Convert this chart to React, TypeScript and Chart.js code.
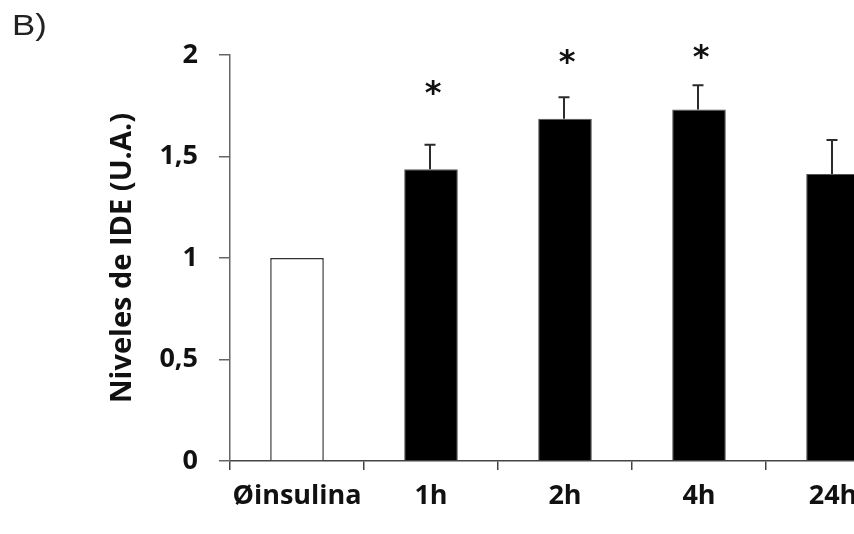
import { useEffect, useRef } from "react";
import { Chart, registerables } from "chart.js";

Chart.register(...registerables);

// IDE levels relative to the untreated control (arbitrary units)
const categories = ["Øinsulina", "1h", "2h", "4h", "24h"];
const ideLevels = [1.0, 1.437, 1.686, 1.731, 1.414];
const ideErrors = [0, 0.121, 0.106, 0.12, 0.167];
// significance marks and the axis value they sit at
const significant = [false, true, true, true, false];
const asteriskLevels = [0, 1.84, 1.995, 2.015, 0];
const yTicks = [0, 0.5, 1, 1.5, 2];
const panelLabel = "B)";
const yTitle = "Niveles de IDE (U.A.)";

const FONT = "'Open Sans', Lato, sans-serif";

const errorBarsPlugin = {
  id: "errorBars",
  afterDatasetsDraw(chart: any) {
    const meta = chart.getDatasetMeta(0);
    const y = chart.scales.y;
    const ctx = chart.ctx;
    ctx.save();
    ctx.strokeStyle = "#2b2b2b";
    ctx.lineWidth = 2;
    meta.data.forEach((bar: any, i: number) => {
      const err = ideErrors[i];
      if (!err) return;
      const x = Math.round(bar.x) - 1;
      const top = y.getPixelForValue(ideLevels[i] + err);
      ctx.beginPath();
      ctx.moveTo(x, bar.y);
      ctx.lineTo(x, top);
      ctx.moveTo(x - 5.5, top);
      ctx.lineTo(x + 5.5, top);
      ctx.stroke();
    });
    // significance asterisks
    ctx.fillStyle = "#111";
    ctx.font = "bold 32px 'DejaVu Sans', sans-serif";
    ctx.textAlign = "center";
    ctx.textBaseline = "alphabetic";
    meta.data.forEach((bar: any, i: number) => {
      if (!significant[i]) return;
      const m = ctx.measureText("*");
      const cy = y.getPixelForValue(asteriskLevels[i]);
      const off = (m.actualBoundingBoxAscent - m.actualBoundingBoxDescent) / 2;
      ctx.fillText("*", bar.x + 2, cy + off);
    });
    ctx.restore();
  },
  afterDraw(chart: any) {
    const ctx = chart.ctx;
    ctx.save();
    ctx.fillStyle = "#222";
    ctx.font = "29px 'Liberation Sans', Arial, sans-serif";
    ctx.textAlign = "left";
    ctx.textBaseline = "alphabetic";
    ctx.translate(12, 35);
    ctx.scale(1.2, 1);
    ctx.fillText(panelLabel, 0, 0);
    ctx.restore();
  },
};

export default function App() {
  const canvasRef = useRef<HTMLCanvasElement | null>(null);

  useEffect(() => {
    const canvas = canvasRef.current;
    if (!canvas) return;
    const chart = new Chart(canvas, {
      type: "bar",
      data: {
        labels: categories,
        datasets: [
          {
            data: ideLevels,
            backgroundColor: ideLevels.map((_, i) => (i === 0 ? "#ffffff" : "#000000")),
            borderColor: ideLevels.map((_, i) => (i === 0 ? "#333333" : "#555555")),
            borderWidth: ideLevels.map((_, i) => (i === 0 ? 1.5 : 1)),
            barPercentage: 0.4,
            categoryPercentage: 1,
          },
        ],
      },
      options: {
        responsive: false,
        animation: false,
        devicePixelRatio: 1,
        layout: { padding: { left: 0, right: 60, top: 55, bottom: 0 } },
        plugins: {
          legend: { display: false },
          tooltip: { enabled: false },
        },
        scales: {
          x: {
            type: "category",
            offset: true,
            border: { display: true, color: "#444", width: 1.5 },
            grid: {
              offset: true,
              drawOnChartArea: false,
              drawTicks: true,
              tickLength: 9,
              color: "#444",
              lineWidth: 1.5,
            },
            ticks: {
              color: "#111",
              padding: 10,
              font: { family: FONT, size: 27, weight: "bold" },
              maxRotation: 0,
            },
            afterFit(scale: any) {
              scale.height = 73;
            },
          },
          y: {
            min: 0,
            max: 2,
            afterBuildTicks(scale: any) {
              scale.ticks = yTicks.map((v) => ({ value: v }));
            },
            border: { display: true, color: "#666", width: 1.5 },
            grid: {
              drawOnChartArea: false,
              drawTicks: true,
              tickLength: 11,
              color: "#666",
              lineWidth: 1.5,
            },
            ticks: {
              color: "#111",
              padding: 21,
              font: { family: FONT, size: 27, weight: "bold" },
              callback: (v: any) => String(v).replace(".", ","),
            },
            title: {
              display: true,
              text: yTitle,
              color: "#111",
              font: { family: FONT, size: 29, weight: "bold", lineHeight: 1 },
              padding: { top: 108, bottom: 0 },
            },
            afterFit(scale: any) {
              scale.width = 230;
            },
          },
        },
      },
      plugins: [errorBarsPlugin],
    });
    return () => chart.destroy();
  }, []);

  return (
    <div
      style={{
        position: "fixed",
        left: 0,
        top: 0,
        width: 854,
        height: 534,
        overflow: "hidden",
        background: "#fff",
      }}
    >
      <canvas ref={canvasRef} width={960} height={534} style={{ display: "block" }} />
    </div>
  );
}
